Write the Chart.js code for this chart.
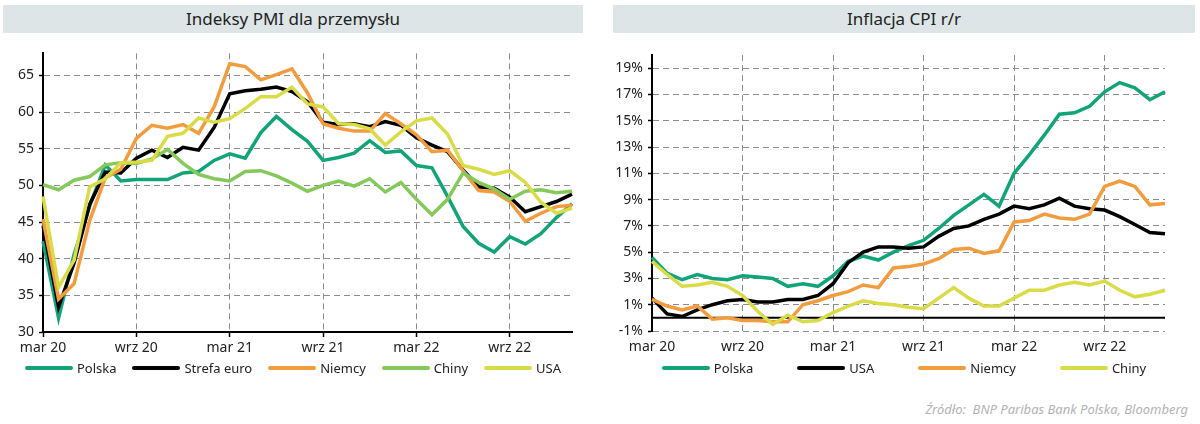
<!DOCTYPE html>
<html>
<head>
    <meta charset="utf-8" />
    <title>PMI i inflacja</title>
    <script src="https://cdn.jsdelivr.net/npm/chart.js"></script>
    <style>
        body { margin: 0; width: 1200px; height: 424px; background: #fff; position: relative; overflow: hidden;
               font-family: 'Noto Sans', sans-serif; }
        .title { position: absolute; top: 5px; height: 28px; line-height: 28px; background: #dde5e6;
                 text-align: center; font-size: 17px; color: #222; }
        .box { position: absolute; top: 40px; }
        .legend { position: absolute; top: 359px; height: 18px; display: flex; justify-content: center;
                  align-items: center; font-size: 13px; color: #222; }
        .legend span.item { display: flex; align-items: center; }
        .legend span.bar { display: inline-block; width: 48px; height: 4px; border-radius: 2px; margin-right: 4px; }
        .source { position: absolute; right: 12px; top: 400px; font-size: 13px; font-style: italic; color: #b3b3b3; }
    </style>
</head>
<body>
    <div class="title" style="left: 3px; width: 580px;">Indeksy PMI dla przemysłu</div>
    <div class="title" style="left: 613px; width: 582px;">Inflacja CPI r/r</div>

    <div class="box" style="left: 0px;"><canvas id="pmiChart" width="590" height="320"></canvas></div>
    <div class="box" style="left: 600px;"><canvas id="cpiChart" width="600" height="320"></canvas></div>

    <div class="legend" id="pmiLegend" style="left: 3px; width: 580px; gap: 16px;"></div>
    <div class="legend" id="cpiLegend" style="left: 613px; width: 582px; gap: 44px;"></div>

    <div class="source">Źródło:&nbsp; BNP Paribas Bank Polska, Bloomberg</div>

    <script>
        // miesiące: mar 20 - sty 23
        const months = [
            'mar 20', 'kwi 20', 'maj 20', 'cze 20', 'lip 20', 'sie 20', 'wrz 20', 'paź 20', 'lis 20', 'gru 20',
            'sty 21', 'lut 21', 'mar 21', 'kwi 21', 'maj 21', 'cze 21', 'lip 21', 'sie 21', 'wrz 21', 'paź 21',
            'lis 21', 'gru 21', 'sty 22', 'lut 22', 'mar 22', 'kwi 22', 'maj 22', 'cze 22', 'lip 22', 'sie 22',
            'wrz 22', 'paź 22', 'lis 22', 'gru 22', 'sty 23'
        ];

        // PMI przemysł
        const pmiPolska = [42.4, 31.9, 40.6, 47.2, 52.8, 50.6, 50.8, 50.8, 50.8, 51.7, 51.9, 53.4, 54.3, 53.7, 57.2, 59.4, 57.6, 56.0,
            53.4, 53.8, 54.4, 56.1, 54.5, 54.7, 52.7, 52.4, 48.5, 44.4, 42.1, 40.9, 43.0, 42.0, 43.4, 45.6, 47.5];
        const pmiStrefaEuro = [44.5, 33.4, 39.4, 47.4, 51.8, 51.7, 53.7, 54.8, 53.8, 55.2, 54.8, 57.9, 62.5, 62.9, 63.1, 63.4, 62.8, 61.4,
            58.6, 58.3, 58.4, 58.0, 58.7, 58.2, 56.5, 55.5, 54.6, 52.1, 49.8, 49.6, 48.4, 46.4, 47.1, 47.8, 48.8];
        const pmiNiemcy = [45.4, 34.5, 36.6, 45.2, 51.0, 52.2, 56.4, 58.2, 57.8, 58.3, 57.1, 60.7, 66.6, 66.2, 64.4, 65.1, 65.9, 62.6,
            58.4, 57.8, 57.4, 57.4, 59.8, 58.4, 56.9, 54.6, 54.8, 52.0, 49.3, 49.1, 47.8, 45.1, 46.2, 47.1, 47.3];
        const pmiChiny = [50.1, 49.4, 50.7, 51.2, 52.8, 53.1, 53.0, 53.6, 54.9, 53.0, 51.5, 50.9, 50.6, 51.9, 52.0, 51.3, 50.3, 49.2,
            50.0, 50.6, 49.9, 50.9, 49.1, 50.4, 48.1, 46.0, 48.1, 51.7, 50.4, 49.5, 48.1, 49.2, 49.4, 49.0, 49.2];
        const pmiUSA = [48.5, 36.1, 39.8, 49.8, 50.9, 53.1, 53.2, 53.4, 56.7, 57.1, 59.2, 58.6, 59.1, 60.5, 62.1, 62.1, 63.4, 61.1,
            60.7, 58.4, 58.3, 57.7, 55.5, 57.3, 58.8, 59.2, 57.0, 52.7, 52.2, 51.5, 52.0, 50.4, 47.7, 46.2, 46.9];
        const pmiTicks = [30, 35, 40, 45, 50, 55, 60, 65];

        // CPI r/r, %
        const cpiPolska = [4.6, 3.4, 2.9, 3.3, 3.0, 2.9, 3.2, 3.1, 3.0, 2.4, 2.6, 2.4, 3.2, 4.3, 4.7, 4.4, 5.0, 5.5,
            5.9, 6.8, 7.8, 8.6, 9.4, 8.5, 11.0, 12.4, 13.9, 15.5, 15.6, 16.1, 17.2, 17.9, 17.5, 16.6, 17.2];
        const cpiUSA = [1.5, 0.3, 0.1, 0.6, 1.0, 1.3, 1.4, 1.2, 1.2, 1.4, 1.4, 1.7, 2.6, 4.2, 5.0, 5.4, 5.4, 5.3,
            5.4, 6.2, 6.8, 7.0, 7.5, 7.9, 8.5, 8.3, 8.6, 9.1, 8.5, 8.3, 8.2, 7.7, 7.1, 6.5, 6.4];
        const cpiNiemcy = [1.4, 0.9, 0.6, 0.9, -0.1, 0.0, -0.2, -0.2, -0.3, -0.3, 1.0, 1.3, 1.7, 2.0, 2.5, 2.3, 3.8, 3.9,
            4.1, 4.5, 5.2, 5.3, 4.9, 5.1, 7.3, 7.4, 7.9, 7.6, 7.5, 7.9, 10.0, 10.4, 10.0, 8.6, 8.7];
        const cpiChiny = [4.3, 3.3, 2.4, 2.5, 2.7, 2.4, 1.7, 0.5, -0.5, 0.2, -0.3, -0.2, 0.4, 0.9, 1.3, 1.1, 1.0, 0.8,
            0.7, 1.5, 2.3, 1.5, 0.9, 0.9, 1.5, 2.1, 2.1, 2.5, 2.7, 2.5, 2.8, 2.1, 1.6, 1.8, 2.1];
        const cpiTicks = [-1, 1, 3, 5, 7, 9, 11, 13, 15, 17, 19];

        const TEAL = '#12a479', BLACK = '#000000', ORANGE = '#f29c3e', LGREEN = '#86c95b', YELLOW = '#d9dc46';

        Chart.defaults.font.family = "'Noto Sans', sans-serif";
        Chart.defaults.font.size = 14;
        Chart.defaults.color = '#222';

        function line(label, data, color, order) {
            return { label, data, borderColor: color, backgroundColor: color, borderWidth: 3.5,
                     pointRadius: 0, tension: 0, fill: false, order };
        }

        function xAxis(height, solidBase) {
            return {
                type: 'category',
                offset: false,
                afterFit: s => { s.height = height; },
                grid: { color: '#8c8c8c', lineWidth: 1, drawTicks: solidBase, tickLength: 5, tickColor: '#000', tickWidth: 1.5 },
                border: { display: solidBase, color: '#000', width: 2, dash: [6, 4] },
                ticks: {
                    autoSkip: false, maxRotation: 0, padding: solidBase ? 3 : 8,
                    callback: function (val, i) { return i % 6 === 0 ? this.getLabelForValue(val) : null; }
                }
            };
        }

        function yAxis(width, min, max, tickValues, fmt) {
            return {
                min, max,
                afterFit: s => { s.width = width; },
                afterBuildTicks: s => { s.ticks = tickValues.map(v => ({ value: v })); },
                grid: { color: '#8c8c8c', lineWidth: 1, tickLength: 4, tickColor: '#000', tickWidth: 1.5 },
                border: { color: '#000', width: 2, dash: [6, 4] },
                ticks: { padding: 5, callback: v => fmt(v) }
            };
        }

        // linia zera na wykresie CPI
        const zeroLine = {
            id: 'zeroLine',
            beforeDatasetsDraw(chart) {
                const y = chart.scales.y.getPixelForValue(0);
                const ctx = chart.ctx;
                ctx.save();
                ctx.strokeStyle = '#000';
                ctx.lineWidth = 2;
                ctx.beginPath();
                ctx.moveTo(chart.chartArea.left, y);
                ctx.lineTo(chart.chartArea.right, y);
                ctx.stroke();
                ctx.restore();
            }
        };

        function buildLegend(chart, elId) {
            const el = document.getElementById(elId);
            chart.data.datasets.forEach(ds => {
                const item = document.createElement('span');
                item.className = 'item';
                item.innerHTML = '<span class="bar" style="background:' + ds.borderColor + '"></span>' + ds.label;
                el.appendChild(item);
            });
        }

        const pmiChart = new Chart(document.getElementById('pmiChart'), {
            type: 'line',
            data: {
                labels: months,
                datasets: [
                    line('Polska', pmiPolska, TEAL, 5),
                    line('Strefa euro', pmiStrefaEuro, BLACK, 4),
                    line('Niemcy', pmiNiemcy, ORANGE, 3),
                    line('Chiny', pmiChiny, LGREEN, 2),
                    line('USA', pmiUSA, YELLOW, 1)
                ]
            },
            options: {
                responsive: false,
                animation: false,
                layout: { padding: { top: 9, right: 18, left: 0, bottom: 0 } },
                plugins: { legend: { display: false }, tooltip: { enabled: false } },
                scales: {
                    x: xAxis(28, true),
                    y: yAxis(43, 30, 68, pmiTicks, v => String(v))
                }
            }
        });

        const cpiChart = new Chart(document.getElementById('cpiChart'), {
            type: 'line',
            data: {
                labels: months,
                datasets: [
                    line('Polska', cpiPolska, TEAL, 4),
                    line('USA', cpiUSA, BLACK, 3),
                    line('Niemcy', cpiNiemcy, ORANGE, 2),
                    line('Chiny', cpiChiny, YELLOW, 1)
                ]
            },
            options: {
                responsive: false,
                animation: false,
                layout: { padding: { top: 15, right: 35, left: 0, bottom: 0 } },
                plugins: { legend: { display: false }, tooltip: { enabled: false } },
                scales: {
                    x: xAxis(29, false),
                    y: yAxis(52, -1, 20, cpiTicks, v => v + '%')
                }
            },
            plugins: [zeroLine]
        });

        buildLegend(pmiChart, 'pmiLegend');
        buildLegend(cpiChart, 'cpiLegend');
    </script>
</body>
</html>
